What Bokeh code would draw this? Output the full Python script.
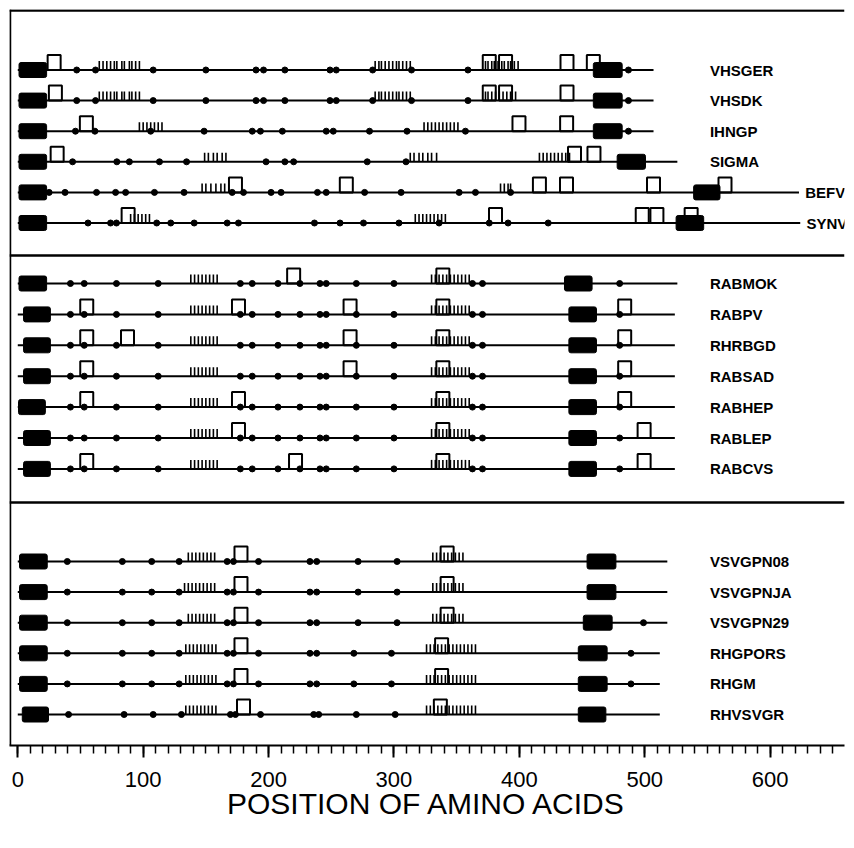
from bokeh.plotting import figure
from bokeh.models import Range1d, Span, SingleIntervalTicker
from bokeh.core.properties import value
from bokeh.embed import file_html
from bokeh.resources import INLINE

# ---------------- data (amino-acid positions) ----------------
names = ["VHSGER", "VHSDK", "IHNGP", "SIGMA", "BEFV", "SYNV",
         "RABMOK", "RABPV", "RHRBGD", "RABSAD", "RABHEP", "RABLEP", "RABCVS",
         "VSVGPN08", "VSVGPNJA", "VSVGPN29", "RHGPORS", "RHGM", "RHVSVGR"]
group_sizes = [6, 7, 6]
lengths = [507, 507, 507, 526, 623, 624,
           526, 524, 524, 524, 524, 524, 524,
           518, 518, 518, 512, 512, 512]
signal_start = [1, 1, 1, 1, 1, 1,
                1, 4.6, 4.6, 4.6, 0.6, 4.6, 4.6,
                1.4, 1.4, 1.4, 1.4, 1.4, 3.6]
signal_end = [23, 23, 23, 23, 23, 23,
              23, 26, 26, 26, 22, 26, 26,
              23.5, 23.5, 23.5, 23.5, 23.5, 24.5]
tm_start = [459, 459, 459, 478, 539, 525,
            436, 439.5, 439.5, 439.5, 439.5, 439.5, 439.5,
            454, 454, 451, 447, 447, 447]
tm_end = [482, 482, 482, 500.6, 560, 547,
          458, 461.5, 461.5, 461.5, 461.5, 461.5, 461.5,
          477, 477, 474, 470, 470, 469]

VHSV_DOTS = [47, 62, 108, 150, 190, 196, 213, 249, 254, 283, 314, 359, 487]
IHNGP_DOTS = [46, 61.5, 106, 148.6, 187, 193.5, 211, 246, 251.6, 280.5, 310.4, 357, 487]
SIGMA_DOTS = [43.7, 79, 89, 113, 134.6, 198, 213, 220, 278.7, 309.6]
BEFV_DOTS = [25, 37.7, 62.8, 78, 86, 109, 132.6, 171, 180, 202, 210, 239, 246,
             276.6, 305.7, 352, 365, 393]
SYNV_DOTS = [56, 74, 78.7, 110.8, 122, 140.7, 167, 176, 236.6, 257, 275.7, 304,
             336, 376, 391, 423]
RAB_DOTS = [42, 53, 78.7, 112, 177.5, 187, 207.5, 225, 241, 246, 270, 300,
            362.6, 370.6, 480]
VSV_DOTS = [39.5, 83.4, 106.8, 128.7, 167, 172, 192, 233, 238.4, 271.4, 302.5]
VSV29_DOTS = [39.5, 83.4, 106.8, 128.7, 167, 172, 192, 233, 238.4, 271.4, 302.5, 499]
RH_DOTS = [39.5, 83.4, 106.8, 128.7, 167, 172, 192, 233, 238.4, 268, 298, 489]
RHVSVGR_DOTS = [40.5, 84.8, 108, 130.5, 169.6, 173.6, 193.6, 236, 240, 270, 301]

dot_sites = [VHSV_DOTS, VHSV_DOTS, IHNGP_DOTS, SIGMA_DOTS, BEFV_DOTS, SYNV_DOTS,
             RAB_DOTS, RAB_DOTS, RAB_DOTS, RAB_DOTS, RAB_DOTS, RAB_DOTS, RAB_DOTS,
             VSV_DOTS, VSV_DOTS, VSV29_DOTS, RH_DOTS, RH_DOTS, RHVSVGR_DOTS]

square_sites = [
    [29, 376, 389, 438, 459],
    [30, 376, 389, 438],
    [54.7, 399.7, 437.7],
    [31.4, 444, 459.5],
    [173.6, 262, 416, 437.6, 507, 564],
    [88, 381, 498, 509.7, 537],
    [220, 339],
    [55, 176, 265, 339, 484],
    [55, 87.5, 265, 339, 484],
    [55, 265, 339, 484],
    [55, 176, 339, 484],
    [176, 339, 499.5],
    [55, 221.5, 339, 499.5],
    [178, 342.4],
    [178, 342.4],
    [178, 342.4],
    [178, 338],
    [178, 338],
    [180, 337],
]

VHSV_T1 = [65, 68, 71, 74, 77, 79, 83, 85, 89, 91, 94, 97]
VHSV_T2 = [285, 288, 290, 293, 296, 299, 302, 304, 307, 310, 313]
VHSV_T3 = [373, 375, 378, 380, 383, 386, 388, 391, 393, 396, 399]
VHSDK_T3 = [373, 375, 378, 381, 384, 387, 390, 393, 397]
IHNGP_T1 = [97, 100, 103, 106, 109, 112, 115]
IHNGP_T2 = [324, 327, 330, 333, 336, 339, 342, 345, 348, 351]
SIGMA_T1 = [149, 152, 156, 159, 163, 166]
SIGMA_T2 = [313, 316, 320, 323, 327, 330, 334]
SIGMA_T3 = [416, 419, 422, 425, 428, 431, 434, 437, 440]
BEFV_T1 = [147, 150, 154, 158, 162, 165]
BEFV_T2 = [385, 388, 391, 393]
SYNV_T1 = [90, 93, 96, 99, 102, 105]
SYNV_T2 = [317, 320, 323, 326, 329, 332, 335, 338, 341]
RAB_T1 = [138, 141, 144, 147, 150, 153, 156, 159]
RAB_T2 = [330, 333, 336, 339, 342, 345, 348, 351, 354, 357, 360]
VSV_T1 = [136, 139, 142, 145, 148, 151, 154, 157]
VSVJA_T1 = [133, 136, 139, 142, 145, 148, 151, 154, 157]
VSV_T2 = [331, 334, 337, 340, 343, 346, 349, 352, 355]
RH_T1 = [134, 137, 140, 143, 146, 149, 152, 155, 158]
RH_T2 = [326, 329, 332, 335, 338, 341, 344, 347, 350, 353, 356, 359, 362, 365]

tick_sites = [
    VHSV_T1 + VHSV_T2 + VHSV_T3,
    VHSV_T1 + VHSV_T2 + VHSDK_T3,
    IHNGP_T1 + IHNGP_T2,
    SIGMA_T1 + SIGMA_T2 + SIGMA_T3,
    BEFV_T1 + BEFV_T2,
    SYNV_T1 + SYNV_T2,
    RAB_T1 + RAB_T2, RAB_T1 + RAB_T2, RAB_T1 + RAB_T2, RAB_T1 + RAB_T2,
    RAB_T1 + RAB_T2, RAB_T1 + RAB_T2, RAB_T1 + RAB_T2,
    VSV_T1 + VSV_T2, VSVJA_T1 + VSV_T2, VSV_T1 + VSV_T2,
    RH_T1 + RH_T2, RH_T1 + RH_T2, RH_T1 + RH_T2,
]

x_ticks_interval = 100
x_title = "POSITION OF AMINO ACIDS"

# ---------------- layout (pixel-like vertical units) ----------------
group_first_row = [69.5, 283.0, 561.0]
group_row_step = [30.6, 30.9, 30.6]
dividers = [255, 502]
label_col = 552

row_y = []
for g, n in enumerate(group_sizes):
    for i in range(n):
        row_y.append(group_first_row[g] + i * group_row_step[g])

BOX_H = 15
SQ_W, SQ_H = 13, 15
TICK_H = 9

p = figure(width=846, height=836, output_backend="svg", toolbar_location=None,
           x_range=Range1d(-6.6, 659.3), y_range=Range1d(745, 9),
           min_border_left=9, min_border_right=2, min_border_top=9,
           min_border_bottom=91)
p.outline_line_color = None
p.grid.visible = False
p.yaxis.visible = False
p.background_fill_color = "white"

# backbone lines
p.segment(x0=[0] * len(names), x1=lengths, y0=row_y, y1=row_y,
          line_color="black", line_width=2)

# ticks
tx, ty0, ty1 = [], [], []
for y, ts in zip(row_y, tick_sites):
    for t in ts:
        tx.append(t); ty0.append(y); ty1.append(y - TICK_H)
p.segment(x0=tx, x1=tx, y0=ty0, y1=ty1, line_color="black", line_width=1.6)

# black boxes (signal peptide & transmembrane)
bl, br, bt, bb = [], [], [], []
for y, s0, s1, t0, t1 in zip(row_y, signal_start, signal_end, tm_start, tm_end):
    bl += [s0, t0]; br += [s1, t1]
    bt += [y - BOX_H / 2, y - BOX_H / 2]; bb += [y + BOX_H / 2, y + BOX_H / 2]
p.quad(left=bl, right=br, top=bt, bottom=bb, fill_color="black",
       line_color="black", border_radius=2)

# dots
dx, dy = [], []
for y, ds in zip(row_y, dot_sites):
    for d in ds:
        dx.append(d); dy.append(y)
p.scatter(x=dx, y=dy, size=6, marker="circle", fill_color="black", line_color="black")

# open squares
sx, sy = [], []
for y, ss in zip(row_y, square_sites):
    for s in ss:
        sx.append(s); sy.append(y - SQ_H / 2)
p.rect(x=sx, y=sy, width=SQ_W, height=SQ_H, width_units="screen",
       height_units="screen", fill_color=None, line_color="black", line_width=2)

# labels
lx = [max(label_col, L + 5) for L in lengths]
p.text(x=lx, y=row_y, text=names, text_font=value("Liberation Sans"),
       text_font_style="bold", text_font_size="15px", text_baseline="middle",
       text_align="left", text_color="black")

# frame & dividers
p.add_layout(Span(location=-6.0, dimension="height", line_color="black", line_width=2))
p.add_layout(Span(location=10, dimension="width", line_color="black", line_width=2.5))
for d in dividers:
    p.add_layout(Span(location=d, dimension="width", line_color="black", line_width=2.5))

# x axis
ax = p.xaxis[0]
ax.ticker = SingleIntervalTicker(interval=x_ticks_interval, num_minor_ticks=10)
ax.axis_line_width = 2
ax.major_tick_in = 0
ax.major_tick_out = 12
ax.major_tick_line_width = 2
ax.minor_tick_in = 0
ax.minor_tick_out = 8
ax.minor_tick_line_width = 1.5
ax.major_label_text_font = "Liberation Sans"
ax.major_label_text_font_size = "22px"
ax.major_label_text_color = "black"
ax.major_label_standoff = 14
ax.axis_label = x_title
ax.axis_label_text_font = "Liberation Sans"
ax.axis_label_text_font_size = "30px"
ax.axis_label_text_font_style = "normal"
ax.axis_label_text_color = "black"
ax.axis_label_standoff = -3

open("out.html", "w").write(file_html(p, INLINE))
